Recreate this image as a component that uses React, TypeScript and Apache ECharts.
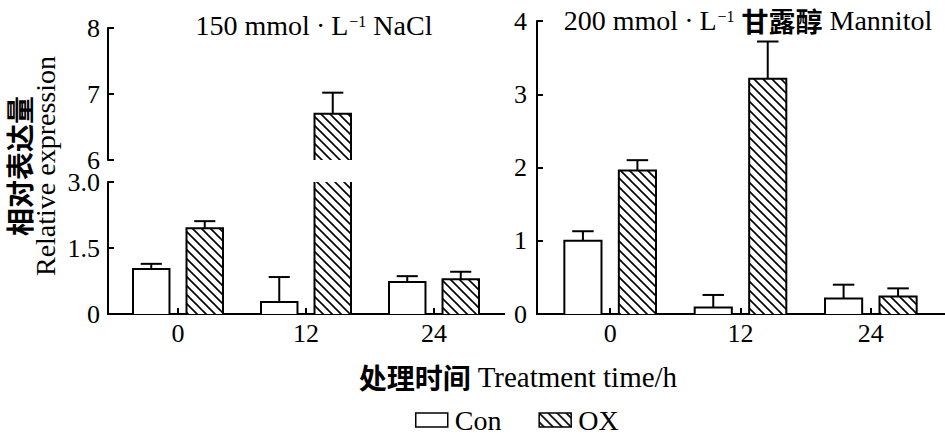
import React, { useEffect, useRef } from 'react';
import * as echarts from 'echarts';

const categories = ['0', '12', '24'];
const naclCon = [1.02, 0.27, 0.73];
const naclConErr = [0.12, 0.57, 0.13];
const naclOx = [1.95, 6.7, 0.79];
const naclOxErr = [0.16, 0.32, 0.17];
const manCon = [1.0, 0.09, 0.21];
const manConErr = [0.13, 0.17, 0.19];
const manOx = [1.96, 3.21, 0.24];
const manOxErr = [0.14, 0.51, 0.11];

const SERIF = '"Liberation Serif", "Times New Roman", serif';
const CJK = '"Noto Sans CJK SC", sans-serif';

const hatchSvg =
  '<svg xmlns="http://www.w3.org/2000/svg" width="9" height="9">' +
  '<rect width="9" height="9" fill="#fff"/>' +
  '<path d="M-1,-1 L10,10 M-1,8 L1,10 M8,-1 L10,1" stroke="#000" stroke-width="1.6"/>' +
  '</svg>';
const hatch: any = {
  image: 'data:image/svg+xml;charset=utf-8,' + encodeURIComponent(hatchSvg),
  repeat: 'repeat',
  imageWidth: 9,
  imageHeight: 9,
};

function toData(vals: number[], errs: number[]) {
  return vals.map((v, i) => [i, v, errs[i]]);
}

function barRenderer(side: number, fill: any) {
  return (params: any, api: any) => {
    const idx = api.value(0);
    const val = api.value(1);
    const err = api.value(2);
    const cs = params.coordSys;
    const band = api.size([1, 0])[0];
    const pTop = api.coord([idx, val]);
    const pBase = api.coord([idx, 0]);
    const w = band * 0.285;
    const cx = pTop[0] + side * band * 0.209;
    const x0 = cx - w / 2;
    const x1 = cx + w / 2;
    const yMin = cs.y;
    const yMax = cs.y + cs.height;
    const topClipped = pTop[1] < yMin;
    const ct = Math.max(pTop[1], yMin);
    const cb = Math.min(pBase[1], yMax);
    if (ct >= cb) return null;
    const ls = { stroke: '#000', lineWidth: 2, fill: null };
    const children: any[] = [
      { type: 'rect', shape: { x: x0, y: ct, width: w, height: cb - ct }, style: { fill, stroke: null } },
    ];
    if (topClipped) {
      children.push({ type: 'line', shape: { x1: x0, y1: ct, x2: x0, y2: cb }, style: ls });
      children.push({ type: 'line', shape: { x1: x1, y1: ct, x2: x1, y2: cb }, style: ls });
    } else {
      children.push({
        type: 'polyline',
        shape: { points: [[x0, cb], [x0, ct], [x1, ct], [x1, cb]] },
        style: ls,
      });
      const eTop = api.coord([idx, val + err])[1];
      const et = Math.max(eTop, yMin);
      const cap = band * 0.165;
      children.push({ type: 'line', shape: { x1: cx, y1: ct, x2: cx, y2: et }, style: ls });
      if (eTop >= yMin) {
        children.push({ type: 'line', shape: { x1: cx - cap / 2, y1: et, x2: cx + cap / 2, y2: et }, style: ls });
      }
    }
    return { type: 'group', children };
  };
}

const axisLine = { show: true, lineStyle: { color: '#000', width: 2 } };
const axisTick = { show: true, inside: true, length: 6, lineStyle: { color: '#000', width: 2 } };

function yAxis(gridIndex: number, min: number, max: number, interval: number, offset: number, margin: number, fmt?: (v: number) => string) {
  return {
    type: 'value',
    gridIndex,
    min,
    max,
    interval,
    offset,
    axisLine,
    axisTick,
    splitLine: { show: false },
    axisLabel: {
      color: '#000',
      fontFamily: SERIF,
      fontSize: 26,
      margin,
      formatter: fmt,
    },
  };
}

function xAxis(gridIndex: number, show: boolean) {
  return {
    type: 'category',
    gridIndex,
    data: categories,
    show,
    axisLine,
    axisTick: { ...axisTick, alignWithLabel: true },
    axisLabel: { color: '#000', fontFamily: SERIF, fontSize: 26, margin: 6 },
  };
}

function series(name: string, gi: number, side: number, fill: any, vals: number[], errs: number[]) {
  return {
    type: 'custom',
    name,
    xAxisIndex: gi,
    yAxisIndex: gi,
    data: toData(vals, errs),
    encode: { x: 0, y: 1 },
    itemStyle: { color: fill, borderColor: '#000', borderWidth: 1.5 },
    renderItem: barRenderer(side, fill),
  };
}

const baseRich = {
  a: { fontFamily: SERIF, fontSize: 28, color: '#000' },
  d: { fontFamily: SERIF, fontSize: 28, color: '#000', padding: [0, 6, 0, 6] },
  s: { fontFamily: SERIF, fontSize: 16, color: '#000', verticalAlign: 'top', padding: [2, 0, 0, 1] },
  c: { fontFamily: CJK, fontSize: 27, fontWeight: 'bold', color: '#000' },
};

function textEl(x: number, y: number, text: string, rich: any, rotation = 0) {
  return {
    type: 'text',
    x,
    y,
    rotation,
    style: {
      text,
      rich,
      fill: '#000',
      align: 'center',
      verticalAlign: 'middle',
      textAlign: 'center',
      textVerticalAlign: 'middle',
    },
  };
}

function hLine(x1: number, x2: number, y: number) {
  return { type: 'line', shape: { x1, y1: y, x2, y2: y }, style: { stroke: '#000', lineWidth: 2 } };
}

export default function App() {
  const ref = useRef<HTMLDivElement>(null);
  useEffect(() => {
    document.body.style.margin = '0';
    if (!ref.current) return;
    const chart = echarts.init(ref.current, undefined, { renderer: 'svg' });
    chart.setOption({
      animation: false,
      backgroundColor: '#fff',
      grid: [
        { left: 114, top: 28, width: 384, height: 132 },
        { left: 114, top: 182, width: 384, height: 132 },
        { left: 545, top: 21, width: 391, height: 293 },
      ],
      xAxis: [xAxis(0, false), xAxis(1, true), xAxis(2, true)],
      yAxis: [
        yAxis(0, 6, 8, 1, 6, 8),
        yAxis(1, 0, 3, 1.5, 6, 8, (v: number) => (v === 0 ? '0' : v.toFixed(1))),
        yAxis(2, 0, 4, 1, 8, 10),
      ],
      legend: {
        left: 415,
        top: 406,
        padding: 0,
        itemWidth: 32,
        itemHeight: 14,
        itemGap: 37,
        icon: 'rect',
        selectedMode: false,
        textStyle: { fontFamily: SERIF, fontSize: 28, lineHeight: 28, color: '#000', padding: [0, 0, 0, 2] },
        data: [
          { name: 'Con', icon: 'rect', itemStyle: { color: '#fff', borderColor: '#000', borderWidth: 1.5 } },
          { name: 'OX', icon: 'rect', itemStyle: { color: hatch, borderColor: '#000', borderWidth: 1.5 } },
        ],
      },
      graphic: [
        textEl(314, 25, '{a|150 mmol}{d|·}{a|L}{s|−1}{a| NaCl}', baseRich),
        textEl(748, 20, '{a|200 mmol}{d|·}{a|L}{s|−1}{a| }{c|甘露醇}{a| Mannitol}', baseRich),
        textEl(
          32,
          166,
          '{cn|相对表达量}\n{en|Relative expression}',
          {
            cn: { fontFamily: CJK, fontSize: 28, fontWeight: 'bold', color: '#000', lineHeight: 26, align: 'center' },
            en: { fontFamily: SERIF, fontSize: 28, color: '#000', lineHeight: 26, align: 'center' },
          },
          Math.PI / 2
        ),
        textEl(518, 377, '{cn|处理时间}{en| Treatment time/h}', {
          cn: { fontFamily: CJK, fontSize: 28, fontWeight: 'bold', color: '#000' },
          en: { fontFamily: SERIF, fontSize: 29, color: '#000' },
        }),
        hLine(107, 114, 314),
        hLine(498, 505, 314),
        hLine(536, 545, 314),
        hLine(936, 945, 314),
      ],
      series: [
        series('Con', 0, -1, '#fff', naclCon, naclConErr),
        series('OX', 0, 1, hatch, naclOx, naclOxErr),
        series('Con', 1, -1, '#fff', naclCon, naclConErr),
        series('OX', 1, 1, hatch, naclOx, naclOxErr),
        series('Con', 2, -1, '#fff', manCon, manConErr),
        series('OX', 2, 1, hatch, manOx, manOxErr),
      ],
    });
    return () => chart.dispose();
  }, []);
  return <div ref={ref} style={{ width: 945, height: 437 }} />;
}
